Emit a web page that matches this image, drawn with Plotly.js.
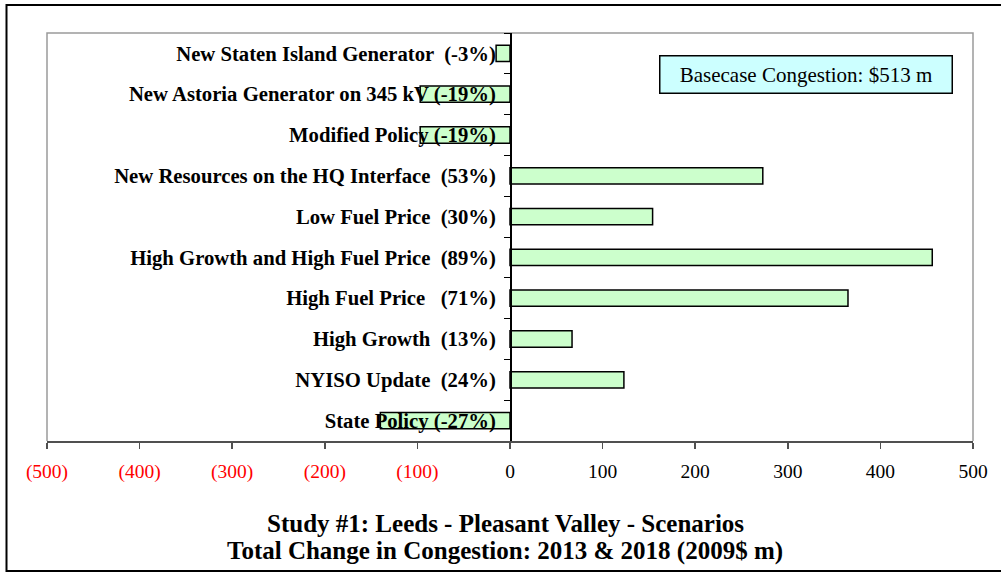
<!DOCTYPE html>
<html>
<head>
<meta charset="utf-8">
<script src="https://cdn.plot.ly/plotly-3.0.1.min.js"></script>
<style>
  html, body { margin: 0; padding: 0; background: #fff; }
  #chart { width: 1001px; height: 572px; }
</style>
</head>
<body>
<div id="chart"></div>
<script>
// Scenario labels, top to bottom
const scenarios = [
  "New Staten Island Generator  (-3%)",
  "New Astoria Generator on 345 kV (-19%)",
  "Modified Policy (-19%)",
  "New Resources on the HQ Interface  (53%)",
  "Low Fuel Price  (30%)",
  "High Growth and High Fuel Price  (89%)",
  "High Fuel Price   (71%)",
  "High Growth  (13%)",
  "NYISO Update  (24%)",
  "State Policy (-27%)"
];
// Change in congestion (2009$ m)
const changeValues = [-15, -97, -97, 273, 154, 456, 365, 67, 123, -140];

// X axis ticks
const tickValues = [-500, -400, -300, -200, -100, 0, 100, 200, 300, 400, 500];
const tickLabels = ["(500)", "(400)", "(300)", "(200)", "(100)", "0", "100", "200", "300", "400", "500"];

const titleLines = [
  "Study #1: Leeds - Pleasant Valley - Scenarios",
  "Total Change in Congestion: 2013 & 2018 (2009$ m)"
];
const baseCaseText = "Basecase Congestion: $513 m";

const serif = "Liberation Serif, Times New Roman, serif";

const tickText = tickValues.map((v, i) =>
  v < 0 ? '<span style="color:#ff0000">' + tickLabels[i] + '</span>' : tickLabels[i]);

const trace = {
  type: "bar",
  orientation: "h",
  y: scenarios,
  x: changeValues,
  marker: { color: "#CCFFCC", line: { color: "#000000", width: 1.5 } },
  hoverinfo: "x+y"
};

// pixel helpers for frame (plot area: x 47..973, y 33..441)
const L = 47, R = 973, T = 33, B = 441;
const px = p => (p - L) / (R - L);
const py = p => (B - p) / (B - T);

const layout = {
  width: 1001,
  height: 572,
  margin: { l: L, r: 1001 - R, t: T, b: 572 - B },
  paper_bgcolor: "#ffffff",
  plot_bgcolor: "#ffffff",
  showlegend: false,
  bargap: 0.6,
  font: { family: serif, size: 16, color: "#000" },
  xaxis: {
    range: [-500, 500],
    tickmode: "array",
    tickvals: tickValues,
    ticktext: tickText,
    showgrid: false,
    zeroline: false,
    showline: true,
    linecolor: "#505050",
    linewidth: 2,
    ticks: "outside",
    ticklen: 6,
    tickwidth: 1.5,
    tickcolor: "#505050",
    ticklabelstandoff: 6,
    tickfont: { family: serif, size: 19.5, color: "#000" },
    fixedrange: true
  },
  yaxis: {
    type: "category",
    autorange: "reversed",
    anchor: "free",
    position: 0.5,
    showgrid: false,
    zeroline: false,
    showline: true,
    linecolor: "#000",
    linewidth: 1.5,
    ticks: "outside",
    tickson: "boundaries",
    ticklen: 6,
    tickwidth: 1,
    tickcolor: "#000",
    ticklabelstandoff: 10,
    tickfont: { family: serif, size: 20.7, color: "#000", weight: "bold" },
    layer: "above traces",
    fixedrange: true
  },
  shapes: [
    // plot area border (gray)
    { type: "path", xref: "paper", yref: "paper",
      path: "M 0 0 L 0 1 L 1 1 L 1 0",
      line: { color: "#9a9a9a", width: 1.5 }, layer: "below" },
    // outer chart frame (left, top, bottom)
    { type: "path", xref: "paper", yref: "paper",
      path: `M ${px(1001)} ${py(5)} L ${px(6.5)} ${py(5)} L ${px(6.5)} ${py(571)} L ${px(1001)} ${py(571)}`,
      line: { color: "#000", width: 2 } }
  ],
  annotations: [
    { xref: "paper", yref: "paper", x: px(805.5), y: py(75), xanchor: "center", yanchor: "middle",
      text: baseCaseText, showarrow: false, font: { family: serif, size: 21, color: "#000" },
      bgcolor: "#CCFFFF", bordercolor: "#000", borderwidth: 1.5, borderpad: 1, width: 289, height: 34 },
    { xref: "paper", yref: "paper", x: px(505), y: py(523), xanchor: "center", yanchor: "middle",
      text: "<b>" + titleLines[0] + "</b>", showarrow: false, font: { family: serif, size: 25, color: "#000" } },
    { xref: "paper", yref: "paper", x: px(505), y: py(551), xanchor: "center", yanchor: "middle",
      text: "<b>" + titleLines[1] + "</b>", showarrow: false, font: { family: serif, size: 25, color: "#000" } }
  ]
};

Plotly.newPlot("chart", [trace], layout, { displayModeBar: false, staticPlot: true });
</script>
</body>
</html>
